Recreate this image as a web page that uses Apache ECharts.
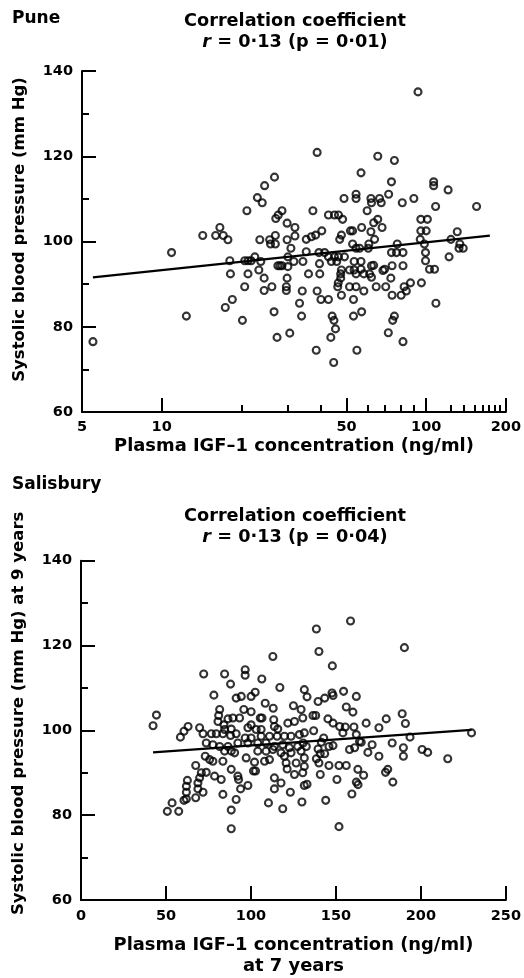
<!DOCTYPE html>
<html><head><meta charset="utf-8">
<script src="https://cdn.jsdelivr.net/npm/echarts@6/dist/echarts.min.js"></script>
<style>html,body{margin:0;padding:0;background:#fff}#c{width:524px;height:978px}</style>
</head><body><div id="c"></div>
<script>
// ---- Pune: plasma IGF-1 (ng/ml, log axis) vs systolic BP (mm Hg)
const puneIGF = [5.5,10.9,12.4,14.3,16.0,16.6,17.1,17.8,18.1,18.2,18.5,17.4,20.2,20.6,21.0,21.2,20.6,21.2,21.8,22.5,
23.0,23.5,23.3,24.0,24.5,24.4,24.4,23.7,26.1,26.7,26.6,27.3,25.6,25.8,26.9,26.9,27.0,27.6,28.5,27.5,
28.0,28.5,29.8,29.8,30.0,30.0,29.8,29.6,29.6,30.5,38.7,37.3,31.9,31.9,35.2,36.8,38.2,40.3,30.8,35.2,
39.3,31.6,34.2,39.5,35.9,39.6,34.0,38.7,40.0,33.2,33.8,38.4,65.6,75.8,56.7,73.9,106.7,106.7,121,54.3,
54.3,48.9,61.8,62.1,66.6,67.6,72.1,81.2,89.8,108.5,59.8,42.7,45,46.6,48.3,65.6,63.3,95.4,101,68.1,
57,51.7,52.7,61.8,95.4,100,47.8,47.1,63.8,60.7,52.7,54.3,56,60.4,77.7,94.9,98.4,124,41.3,42.7,
45,46.6,49.1,73.9,77.2,81.7,99.4,122,53.4,56.7,43.8,45.9,63.3,99.4,47.8,47.5,47.5,51.3,53.4,56.7,
62.1,74.3,69.6,68.6,81.7,102.9,107.5,54.3,58.1,61.1,62.1,73.5,46.5,46.3,51.3,54.3,64.7,70.3,87.2,82.5,
84.1,95.9,58.1,47.8,42.7,53.1,74.3,80.4,108.8,44.1,44.8,45.4,53.1,57,75.8,74.7,71.9,43.6,81.7,54.7,
44.7,93.1,131,134,133,138,155];
const puneSBP = [76.5,97.4,82.5,101.4,101.4,103.3,101.4,100.4,95.5,92.4,86.4,84.5,81.5,89.4,107.2,92.4,95.5,95.5,95.5,96.4,
110.3,100.4,93.3,109.1,113.1,91.4,88.5,95.3,89.4,115.1,83.5,77.5,100.4,99.4,101.4,99.4,105.4,106.2,107.2,94.3,
94.3,94.3,104.3,100.4,96.4,94.1,91.4,89.4,88.5,78.5,120.9,107.2,103.3,101.3,100.5,101.1,101.5,102.5,98.4,97.6,
97.4,95.3,95.3,94.8,92.4,92.4,88.4,88.4,86.4,85.5,82.5,74.5,120.0,119.0,116.1,114.0,114.0,113.1,112.1,111.1,
110.1,110.1,110.1,109.1,110.1,109.1,111.1,109.1,110.1,108.2,107.2,106.2,106.2,106.2,105.2,105.2,104.4,105.2,105.2,103.3,
103.3,102.5,102.5,102.3,102.5,102.5,101.5,100.5,100.5,99.4,99.4,98.4,98.4,98.4,99.4,100.5,99.4,100.5,97.4,96.4,
96.4,96.4,96.4,97.4,97.4,97.4,97.4,96.4,95.3,95.3,95.3,95.3,94.4,95.5,93.3,92.4,91.4,93.3,93.3,93.5,
94.3,94.3,93.5,93.2,94.3,93.5,93.5,92.4,92.4,92.4,91.6,91.4,90.3,89.4,89.4,89.4,89.4,89.4,90.3,89.4,
88.4,90.3,88.4,87.4,86.4,86.4,87.4,87.4,85.5,82.5,81.5,79.5,82.5,83.5,82.5,81.5,78.6,77.5,76.5,74.5,
71.6,135.1,102.3,99.4,98.4,98.4,108.2];
const puneFitIGF = [5.5, 174];
const puneFitSBP = [91.6, 101.4];
const puneLabelTicks = [5, 10, 50, 100, 200];
const puneMinorTicks = [20, 30, 40, 60, 70, 80, 90, 124, 139, 152, 163, 173, 181, 189];

// ---- Salisbury: plasma IGF-1 at 7 years vs systolic BP at 9 years
const salisIGF = [112.9,72.2,84.5,96.6,96.6,88.0,106.4,117,78.2,91.3,94.3,100.1,102.5,131.4,108.4,113.1,125,129.5,81.6,81,
95.8,100.1,44.4,42.4,63,60.6,58.5,69.8,71.8,76.7,79.6,83.5,88,91.3,86.5,89.4,93.3,80.6,84.1,84.5,
88.4,98.2,100.1,105.5,106.5,113.4,113.8,115.8,121.7,125.6,130.5,103.1,106,96.6,100.1,106,110.9,115.4,119.7,123.6,
128.5,131.4,73.7,77.6,81.6,86.5,92.3,98.2,104,108.9,113.8,118.7,122.6,127.5,84.5,88.4,90.4,104,108.9,112.9,
117.7,123.6,129.5,73.1,75.7,77.6,83.5,97.2,102.1,108,110.9,119.7,120.7,126.6,131.4,131.4,67.5,88.4,101.5,102.7,
121.3,125.6,130.5,70.8,73.7,78.6,82.5,69.8,68.8,92.3,92.7,113.8,117.7,113.8,98.2,93.9,131.4,62.6,62,62,
60.6,62,68.8,71.8,67.5,83.5,91.3,123.2,53.6,50.8,57.5,88.4,110.3,118.7,130,88.4,
158.6,138.5,140,190.3,147.9,133,139.5,143.4,147.7,148.3,154.5,162,136.5,138.1,156.1,160,145.3,148.3,152.2,155.5,
160.6,167.8,175.3,179.6,189,190.9,193.6,229.8,136.9,154.1,162,163.9,142.8,141.4,145.9,148.3,132.6,130.7,158,161,
164.9,171.3,168.8,183.1,189.7,189.7,200.7,204,215.8,175.3,139.5,140.8,143.4,138.5,140,145.9,151.8,156.1,140.8,162.9,
166.3,179.2,180.5,150.6,162,163,183.5,133,159.4,144,151.8];
const salisSBP = [117.4,113.3,113.3,114.3,113.0,110.9,112.1,110.1,108.3,107.6,108.0,108.0,109.0,109.6,106.4,105.2,105.8,104.9,104.9,103.5,
104.9,104.4,103.6,101.1,100.9,99.8,98.4,100.6,99.2,99.2,99.2,99.2,98.8,99.2,102.7,102.9,102.9,102.1,101.3,100.2,
100.3,100.6,101.3,102.9,102.9,102.5,100.9,100.3,101.7,102.1,102.9,100.2,100.2,98.2,98.2,98.6,98.6,98.6,98.6,98.6,
99,99.4,97,96.6,96.2,96.2,97,97,97,97,96.2,96.6,95.9,96.2,95.1,95.1,94.7,95.1,95.1,95.5,
94.7,94.7,95.1,93.9,93.1,92.7,92.7,93.5,92.5,92.7,93.1,93.9,92.3,92.3,93.5,91.5,91.7,90.8,90.4,90.4,
90.9,89.6,90,90,90.1,89.2,88.4,88.8,87.6,89.2,88.4,88.8,87.6,86.2,87,86.2,87,88.2,86.8,85.4,
83.5,83.8,86.2,85.4,84.1,84.9,83.7,85.4,82.9,80.9,80.9,81.2,82.9,81.5,83.1,76.8,
125.8,123.9,118.6,119.5,115.2,107.9,106.8,107.6,108.8,108.2,109.2,108,103.5,103.5,105.5,104.3,102.7,101.7,100.9,100.8,
100.8,101.7,100.6,102.7,103.9,101.6,98.4,99.4,99.9,99.4,99,97.4,98.2,97.2,96.2,96.4,96.2,97,95.5,95.9,
97.2,96.6,94.8,97,95.9,93.9,95.5,94.8,93.3,93.9,95.6,94.5,94.5,93.3,92.3,91.7,91.7,91.7,89.6,90.8,
89.4,90.1,90.8,88.4,87.8,87.2,87.8,87.3,85,83.5,77.3];
const salisFitIGF = [42.4, 229.8];
const salisFitSBP = [94.8, 100.1];

const FONT = 'DejaVu Sans';
const txt = {fontFamily: FONT, fontWeight: 'bold', color: '#000'};
const black2 = {color: '#000', width: 2};

function yAxis(gi, name, shiftUp) {
  return {
    type: 'value', gridIndex: gi, min: 60, max: 140, interval: 20,
    name: name, nameLocation: 'middle', nameGap: 54,
    nameTextStyle: Object.assign({}, txt, {fontSize: 16.5, padding: [0, 0, 0, shiftUp * 2]}),
    axisLine: {show: true, lineStyle: black2},
    axisTick: {show: true, inside: true, length: 14, lineStyle: black2},
    minorTick: {show: true, splitNumber: 2, length: 7, lineStyle: black2},
    axisLabel: Object.assign({}, txt, {fontSize: 14.5, margin: 9}),
    splitLine: {show: false}, minorSplitLine: {show: false}
  };
}

const pairs = (xs, ys) => xs.map((x, i) => [x, ys[i]]);
const dotStyle = {color: 'rgba(255,255,255,0)', borderColor: '#000', borderWidth: 2.1};

const option = {
  animation: false,
  backgroundColor: '#fff',
  title: [
    {text: 'Pune', left: 12, top: 9, padding: 0, textStyle: Object.assign({}, txt, {fontSize: 17, lineHeight: 20})},
    {text: 'Correlation coefficient\n{i|r} = 0·13 (p = 0·01)', left: 295, top: 11, padding: 0, textAlign: 'center',
     textStyle: Object.assign({}, txt, {fontSize: 17.7, lineHeight: 21,
       rich: {i: Object.assign({}, txt, {fontSize: 17.7, fontStyle: 'italic', lineHeight: 21})}})},
    {text: 'Salisbury', left: 12, top: 475, padding: 0, textStyle: Object.assign({}, txt, {fontSize: 17, lineHeight: 20})},
    {text: 'Correlation coefficient\n{i|r} = 0·13 (p = 0·04)', left: 295, top: 506, padding: 0, textAlign: 'center',
     textStyle: Object.assign({}, txt, {fontSize: 17.7, lineHeight: 21,
       rich: {i: Object.assign({}, txt, {fontSize: 17.7, fontStyle: 'italic', lineHeight: 21})}})}
  ],
  grid: [
    {left: 82, top: 71, width: 424.5, height: 341},
    {left: 81, top: 560.7, width: 426, height: 340}
  ],
  xAxis: [
    {type: 'log', gridIndex: 0, min: 5, max: 200, logBase: 10, position: 'bottom',
     name: 'Plasma IGF–1 concentration (ng/ml)', nameLocation: 'middle', nameGap: 25,
     nameTextStyle: Object.assign({}, txt, {fontSize: 17.9}),
     axisLine: {show: true, lineStyle: black2},
     axisTick: {show: true, inside: true, length: 14, lineStyle: black2, customValues: puneLabelTicks},
     axisLabel: Object.assign({}, txt, {fontSize: 14.5, margin: 8, customValues: puneLabelTicks}),
     splitLine: {show: false}},
    {type: 'log', gridIndex: 0, min: 5, max: 200, logBase: 10, position: 'bottom',
     axisLine: {show: false},
     axisTick: {show: true, inside: true, length: 7, lineStyle: black2, customValues: puneMinorTicks},
     axisLabel: {show: false}, splitLine: {show: false}},
    {type: 'value', gridIndex: 1, min: 0, max: 250, interval: 50, position: 'bottom',
     name: 'Plasma IGF–1 concentration (ng/ml)\nat 7 years', nameLocation: 'middle', nameGap: 35,
     nameTextStyle: Object.assign({}, txt, {fontSize: 17.9, lineHeight: 21}),
     axisLine: {show: true, lineStyle: black2},
     axisTick: {show: true, inside: true, length: 14, lineStyle: black2},
     axisLabel: Object.assign({}, txt, {fontSize: 14.5, margin: 9}),
     splitLine: {show: false}}
  ],
  yAxis: [
    yAxis(0, 'Systolic blood pressure (mm Hg)', 12),
    yAxis(1, 'Systolic blood pressure (mm Hg) at 9 years', 17)
  ],
  series: [
    {type: 'scatter', xAxisIndex: 0, yAxisIndex: 0, data: pairs(puneIGF, puneSBP),
     symbol: 'circle', symbolSize: 7, itemStyle: dotStyle, silent: true},
    {type: 'line', xAxisIndex: 0, yAxisIndex: 0, data: pairs(puneFitIGF, puneFitSBP),
     showSymbol: false, lineStyle: {color: '#000', width: 2.3}, silent: true},
    {type: 'scatter', xAxisIndex: 2, yAxisIndex: 1, data: pairs(salisIGF, salisSBP),
     symbol: 'circle', symbolSize: 7, itemStyle: dotStyle, silent: true},
    {type: 'line', xAxisIndex: 2, yAxisIndex: 1, data: pairs(salisFitIGF, salisFitSBP),
     showSymbol: false, lineStyle: {color: '#000', width: 2.3}, silent: true}
  ]
};

const chart = echarts.init(document.getElementById('c'), null, {renderer: 'canvas'});
chart.setOption(option);
</script>
</body></html>
